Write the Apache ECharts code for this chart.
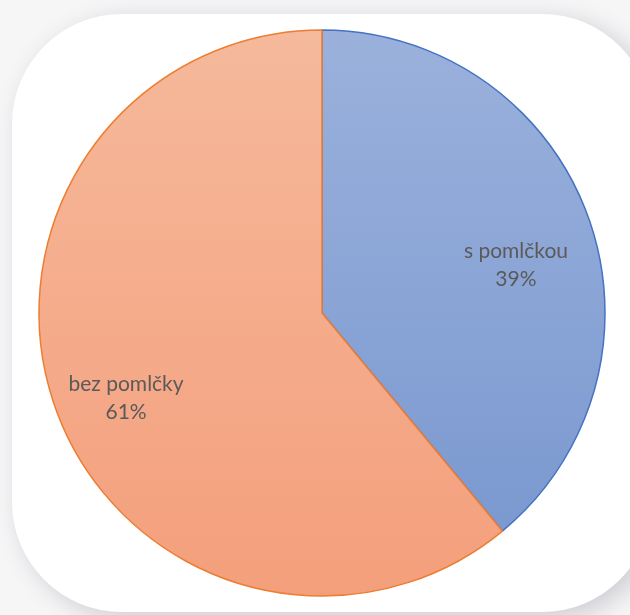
<!DOCTYPE html>
<html>
<head>
<meta charset="utf-8">
<style>
  html, body { margin: 0; padding: 0; background: #f6f6f7; }
  #chart { width: 630px; height: 615px; }
</style>
<script src="https://cdn.jsdelivr.net/npm/echarts@6/dist/echarts.min.js"></script>
</head>
<body>
<div id="chart"></div>
<script>
// Share of spellings with and without the hyphen
const categories = ['s pomlčkou', 'bez pomlčky'];
const shares = [39, 61];

// Fill gradients (light at top, deeper at bottom) and outlines per slice
const fillTop = ['#9bb1dc', '#f5b99b'];
const fillBottom = ['#7b99d0', '#f49f7c'];
const outline = ['#4472c4', '#ed7d31'];
// Nudge each inside label away from the half-radius default
const labelOffsets = [[58, 1], [-60, 36]];

const chart = echarts.init(document.getElementById('chart'), null, { renderer: 'canvas' });

const data = categories.map((name, i) => ({
  name,
  value: shares[i],
  itemStyle: {
    color: new echarts.graphic.LinearGradient(0, 0, 0, 1, [
      { offset: 0, color: fillTop[i] },
      { offset: 1, color: fillBottom[i] }
    ]),
    borderColor: outline[i],
    borderWidth: 1.5
  },
  label: { offset: labelOffsets[i] }
}));

chart.setOption({
  backgroundColor: '#f6f6f7',
  animation: false,
  graphic: [
    {
      type: 'rect',
      z: 0,
      shape: { x: 12, y: 14, width: 640, height: 598, r: 110 },
      style: {
        fill: '#ffffff',
        shadowBlur: 24,
        shadowColor: 'rgba(60, 60, 80, 0.22)',
        shadowOffsetX: 8,
        shadowOffsetY: 6
      }
    }
  ],
  series: [
    {
      type: 'pie',
      z: 5,
      center: [322, 313],
      radius: [0, 283],
      startAngle: 90,
      clockwise: true,
      data,
      label: {
        show: true,
        position: 'inside',
        formatter: p => p.name + '\n' + p.value + '%',
        color: '#5a5a5a',
        fontFamily: 'Lato, "Open Sans", sans-serif',
        fontSize: 21,
        lineHeight: 28,
        align: 'center'
      },
      labelLine: { show: false },
      emphasis: { disabled: true }
    }
  ]
});
</script>
</body>
</html>
